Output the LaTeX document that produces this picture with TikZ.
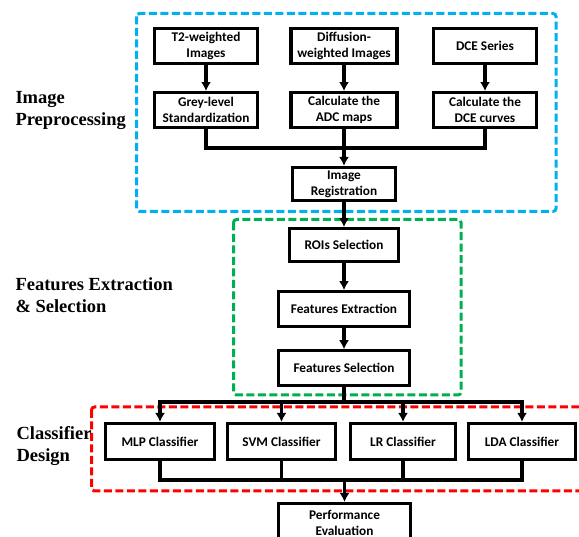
\documentclass[tikz,border=0pt]{standalone}
\usepackage{fontspec}
\setmainfont{Liberation Serif}
\newfontfamily\calibrifont{Carlito}
\usetikzlibrary{%
  arrows.meta,%
  positioning% wg. " of "
}
\definecolor{frameblue}{RGB}{0,176,240}
\definecolor{framegreen}{RGB}{0,176,80}
\definecolor{framered}{RGB}{255,0,0}

\begin{document}
\begin{tikzpicture}[
    x=1pt,y=-1pt,
    >={Latex[length=9pt,width=10pt]},line width=3.1pt,
    block/.style={rectangle,draw,fill=white,align=center,inner sep=1pt,
        font=\calibrifont\bfseries\fontsize{13.3}{16}\selectfont},
    stage/.style={minimum width=103pt,minimum height=35pt},
    classifier/.style={minimum height=36pt},
    stagelabel/.style={anchor=base west,align=left,inner sep=0pt,
        font=\bfseries\fontsize{18.5}{22}\selectfont},
    frame/.style={line width=3pt,dash pattern=on 8pt off 3.5pt,
        rounded corners=3pt},
    node distance=26pt
  ]
    \useasboundingbox (0,0) rectangle (579,537);
    \clip (0,0) rectangle (579,537);

    % dashed groups
    \draw [frame,frameblue]  (136.5,13.5) rectangle (556,211.5);
    \draw [frame,framegreen] (233.5,219.5) rectangle (461,395);
    \draw [frame,framered]   (91.5,407) rectangle (600,491);

    \node (t2)     [block,stage] at (206,46) {T2-weighted\\Images};
    \node (dwi)    [block,stage,minimum width=106pt] at (344,46)
        {Diffusion-\\weighted Images};
    \node (dce)    [block,stage] at (485,46) {DCE Series};
    \node (grey)   [block,stage,below=of t2] {Grey-level\\Standardization};
    \node (adc)    [block,stage,minimum width=106pt,below=of dwi]
        {Calculate the\\ADC maps};
    \node (curves) [block,stage,below=of dce] {Calculate the\\DCE curves};
    \node (reg)    [block,stage,minimum height=33pt] at (344,184)
        {Image\\Registration};

    \node (roi)  [block,minimum width=109pt,minimum height=33pt,
        below=25pt of reg] {ROIs Selection};
    \node (fext) [block,minimum width=131pt,minimum height=35pt,
        below=27pt of roi] {Features Extraction};
    \node (fsel) [block,minimum width=131pt,minimum height=35pt,
        below=21pt of fext] {Features Selection};

    \node (mlp) [block,classifier,minimum width=109pt] at (160,441.5)
        {MLP Classifier};
    \node (svm) [block,classifier,minimum width=108pt] at (281.5,441.5)
        {SVM Classifier};
    \node (lr)  [block,classifier,minimum width=105pt] at (403,441.5)
        {LR Classifier};
    \node (lda) [block,classifier,minimum width=107pt] at (522,441.5)
        {LDA Classifier};
    \node (perf) [block,minimum width=132pt,minimum height=38pt]
        at (344.5,522.5) {Performance\\Evaluation};

    % base anchor sits on the last line
    \node (lpre)  [stagelabel] at (14,126) {Image\\Preprocessing};
    \node (lfeat) [stagelabel] at (14,313) {Features Extraction\\\& Selection};
    \node (lcls)  [stagelabel] at (15,462) {Classifier\\Design};

    % connectors
    \coordinate (merge)   at (344,148);
    \coordinate (split)   at (344,402);
    \coordinate (collect) at (344.5,480);

    \draw [->] (t2)  -- (grey);
    \draw [->] (dwi) -- (adc);
    \draw [->] (dce) -- (curves);
    \draw (grey)   |- (merge);
    \draw (curves) |- (merge);
    \draw [->] (adc) -- (reg);
    \draw [->] (reg) -- (roi);
    \draw [->] (roi) -- (fext);
    \draw [->] (fext) -- (fsel);
    \draw (fsel) -- (split);
    \foreach \c in {mlp,svm,lr,lda} {
        \draw [->] (split) -| (\c);
        \draw (\c) |- (collect);
    }
    \draw [->] (collect) -- (perf);
\end{tikzpicture}
\end{document}
